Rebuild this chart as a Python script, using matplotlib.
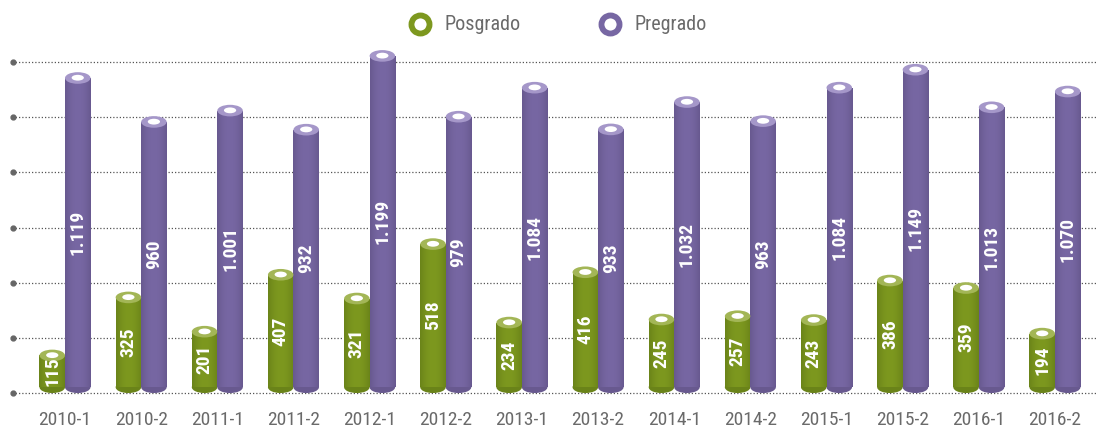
import matplotlib
matplotlib.use("Agg")
import matplotlib.pyplot as plt
import numpy as np
from matplotlib.patches import Ellipse, Rectangle
from matplotlib.lines import Line2D
from matplotlib.colors import to_rgb

plt.rcParams['font.family'] = ['Roboto Condensed', 'Archivo Narrow', 'Barlow Semi Condensed', 'DejaVu Sans']

categories = ["2010-1", "2010-2", "2011-1", "2011-2", "2012-1", "2012-2", "2013-1",
              "2013-2", "2014-1", "2014-2", "2015-1", "2015-2", "2016-1", "2016-2"]
posgrado = [115, 325, 201, 407, 321, 518, 234, 416, 245, 257, 243, 386, 359, 194]
pregrado = [1119, 960, 1001, 932, 1199, 979, 1084, 933, 1032, 963, 1084, 1149, 1013, 1070]
posgrado_labels = ["115", "325", "201", "407", "321", "518", "234", "416", "245", "257", "243", "386", "359", "194"]
pregrado_labels = ["1.119", "960", "1.001", "932", "1.199", "979", "1.084", "933", "1.032", "963", "1.084", "1.149", "1.013", "1.070"]
series_names = ["Posgrado", "Pregrado"]

GREEN = "#7d981f"
GREEN_TOP = "#a3b656"
GREEN_DARK = "#6a8319"
PURPLE = "#7767a3"
PURPLE_TOP = "#a597c9"
PURPLE_DARK = "#68598f"
TEXT = "#6a6a6a"

fig = plt.figure(figsize=(10.97, 4.33), dpi=100)
ax = fig.add_axes([12/1097, (433-393.3)/433, 1085/1097, (393.3-61.7)/433])
ax.set_xlim(-0.696, 13.552)
ax.set_ylim(0, 1200)
ax.axis('off')

# grid lines
for gv in np.arange(0, 1201, 200):
    ax.plot([-0.696, 13.552], [gv, gv], linestyle=(0, (1, 1.6)), color="#555555",
            linewidth=0.9, zorder=1, clip_on=False)
    ax.plot([-0.696 + 0.01], [gv], marker='o', markersize=3.5, color="#666666",
            zorder=2, clip_on=False)

bw = 0.335
off = 22      # depth offset of the 3D cylinders
eh = 42       # ellipse height (data units)

def gradient_img(c_edge, c_mid):
    e = np.array(to_rgb(c_edge)); m = np.array(to_rgb(c_mid))
    t = np.linspace(-1, 1, 64)
    w = np.clip(1 - np.abs(t) ** 2, 0, 1)
    row = e[None, :] * (1 - w[:, None]) + m[None, :] * w[:, None]
    return row[None, :, :]

def cylinder(xc, val, body, dark, top, label):
    y0 = off
    y1 = val + off
    rect = Rectangle((xc - bw/2, y0), bw, y1 - y0, facecolor=body, edgecolor='none',
                     zorder=3, clip_on=False)
    ax.add_patch(rect)
    im = ax.imshow(gradient_img(dark, body), extent=[xc - bw/2, xc + bw/2, y0, y1],
                   aspect='auto', zorder=3.1, interpolation='bilinear')
    im.set_clip_path(rect)
    ax.add_patch(Ellipse((xc, y0), bw, eh, facecolor=dark, edgecolor='none',
                         zorder=2.9, clip_on=False))
    ax.add_patch(Ellipse((xc, y1), bw, eh, facecolor=top, edgecolor='none',
                         zorder=3.5, clip_on=False))
    ax.add_patch(Ellipse((xc, y1 + 1), bw * 0.48, eh * 0.5, facecolor='white',
                         edgecolor='none', zorder=3.6, clip_on=False))
    ax.text(xc, (y0 + y1) / 2, label, rotation=90, ha='center', va='center',
            color='white', fontsize=14, fontweight='bold', zorder=4)

x = np.arange(len(categories))
for i in range(len(categories)):
    cylinder(x[i] - bw/2, posgrado[i], GREEN, GREEN_DARK, GREEN_TOP, posgrado_labels[i])
    cylinder(x[i] + bw/2, pregrado[i], PURPLE, PURPLE_DARK, PURPLE_TOP, pregrado_labels[i])
    ax.text(x[i], -97, categories[i], ha='center', va='center', fontsize=14,
            color=TEXT)

# legend (manual placement)
leg_x = [420, 610]
leg_cols = [GREEN, PURPLE]
for lx, col, name in zip(leg_x, leg_cols, series_names):
    fig.add_artist(Line2D([lx/1097], [1 - 24/433], transform=fig.transFigure,
                          linestyle='none', marker='o', markersize=13,
                          markerfacecolor='white', markeredgecolor=col,
                          markeredgewidth=4.2))
    fig.text((lx + 24)/1097, 1 - 24/433, name, ha='left', va='center',
             fontsize=14.5, color=TEXT)

fig.savefig("out.png", dpi=100)
